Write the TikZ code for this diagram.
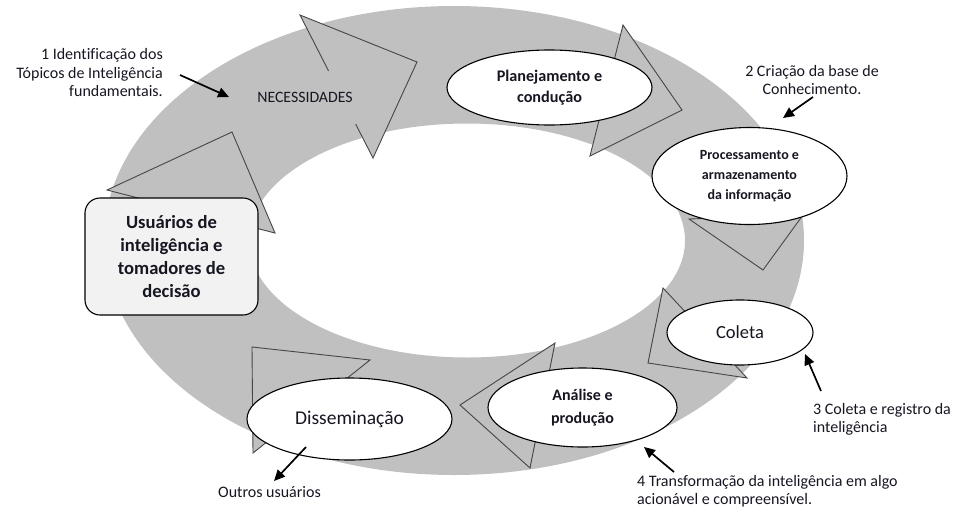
\documentclass[tikz,border=0pt]{standalone}
\usepackage{fontspec}
\setmainfont{Carlito}[Ligatures=NoCommon]
\usetikzlibrary{shapes.geometric,arrows.meta}
\definecolor{ringgray}{RGB}{192,192,192}
\definecolor{triline}{RGB}{70,70,70}
\definecolor{boxfill}{RGB}{242,242,242}
\definecolor{txt}{RGB}{22,22,34}
\begin{document}
\begin{tikzpicture}[x=1pt,y=-1pt,
  tri/.style={fill=ringgray, draw=triline, line width=0.9pt, line join=miter},
  stage/.style={ellipse, draw=black, line width=1.1pt, fill=white, inner sep=0pt, align=center, text=txt},
  note/.style={text=txt, inner sep=0pt, font=\fontsize{16}{18.5}\selectfont},
  pointer/.style={-{Triangle[length=11pt,width=10pt]}, line width=1.7pt, black}]
\useasboundingbox (0,0) rectangle (959,512);
% ring
\fill[ringgray, even odd rule] (454,240.5) ellipse [x radius=350, y radius=234.5]
  (467,240.5) ellipse [x radius=218, y radius=117];
% arrow heads of the cycle
\draw[tri] (300,15) -- (417,62) -- (373,158) -- cycle;
\draw[tri] (623,25) -- (682,110) -- (590,156) -- cycle;
\draw[tri] (689,219) -- (763,270) -- (803,215) -- cycle;
\draw[tri] (663,288) -- (648,363) -- (747,378) -- cycle;
\draw[tri] (555,343) -- (460,405) -- (530,468) -- cycle;
\draw[tri] (252,347) -- (370,360) -- (253,453) -- cycle;
\draw[tri] (107,190) -- (232,132) -- (275,233) -- cycle;
% label on the ring
\node[fill=ringgray, minimum width=125pt, minimum height=53pt, inner sep=0pt, text=txt,
  font=\fontsize{15.8}{18}\selectfont] (nec) at (305,97.5) {NECESSIDADES};
% stages
\node[stage, minimum width=205pt, minimum height=75pt, font=\fontsize{16.2}{21}\selectfont\bfseries]
  (plan) at (549.5,87.5) {Planejamento e\\condução};
\node[stage, minimum width=195pt, minimum height=97pt, font=\fontsize{14}{20}\selectfont\bfseries]
  (proc) at (749.5,176) {Processamento e\\armazenamento\\da informação};
\node[stage, minimum width=146pt, minimum height=65pt, font=\fontsize{18.5}{22}\selectfont]
  (col) at (740,332.5) {Coleta};
\node[stage, minimum width=189pt, minimum height=79pt, font=\fontsize{16}{23}\selectfont\bfseries]
  (ana) at (582.5,407.5) {Análise e\\produção};
\node[stage, minimum width=205pt, minimum height=82pt, font=\fontsize{19.5}{22}\selectfont]
  (dis) at (349.5,419) {Disseminação};
\node[draw=black, line width=1.1pt, fill=boxfill, rounded corners=15pt, inner sep=0pt,
  minimum width=173pt, minimum height=117pt, align=center, text=txt,
  font=\fontsize{18.6}{22.7}\selectfont\bfseries]
  (usr) at (171.5,256.5) {Usuários de\\inteligência e\\tomadores de\\decisão};
% annotations
\node[note, align=right, anchor=east] (n1) at (163,73) {1 Identificação dos\\Tópicos de Inteligência\\fundamentais.};
\coordinate (a1s) at (180,75);
\coordinate (a1e) at (229,97);
\draw[pointer] (a1s) -- (a1e);
\node[note, align=center] (n2) at (812,80) {2 Criação da base de\\Conhecimento.};
\coordinate (a2s) at (813,97);
\coordinate (a2e) at (783,118);
\draw[pointer] (a2s) -- (a2e);
\begin{scope}
\clip (800,395) rectangle (959,436);
\node[note, align=left, anchor=north west] (n3) at (813,403) {3 Coleta e registro da\\inteligência};
\end{scope}
\coordinate (a3s) at (821,391);
\coordinate (a3e) at (805,354);
\draw[pointer] (a3s) -- (a3e);
\node[note, align=left, anchor=west] (n4) at (637,491) {4 Transformação da inteligência em algo\\acionável e compreensível.};
\coordinate (a4s) at (674,472);
\coordinate (a4e) at (644,447);
\draw[pointer] (a4s) -- (a4e);
\node[note] (n5) at (269.5,492) {Outros usuários};
\coordinate (a5s) at (306,447);
\coordinate (a5e) at (274,481);
\draw[pointer] (a5s) -- (a5e);
\end{tikzpicture}
\end{document}
